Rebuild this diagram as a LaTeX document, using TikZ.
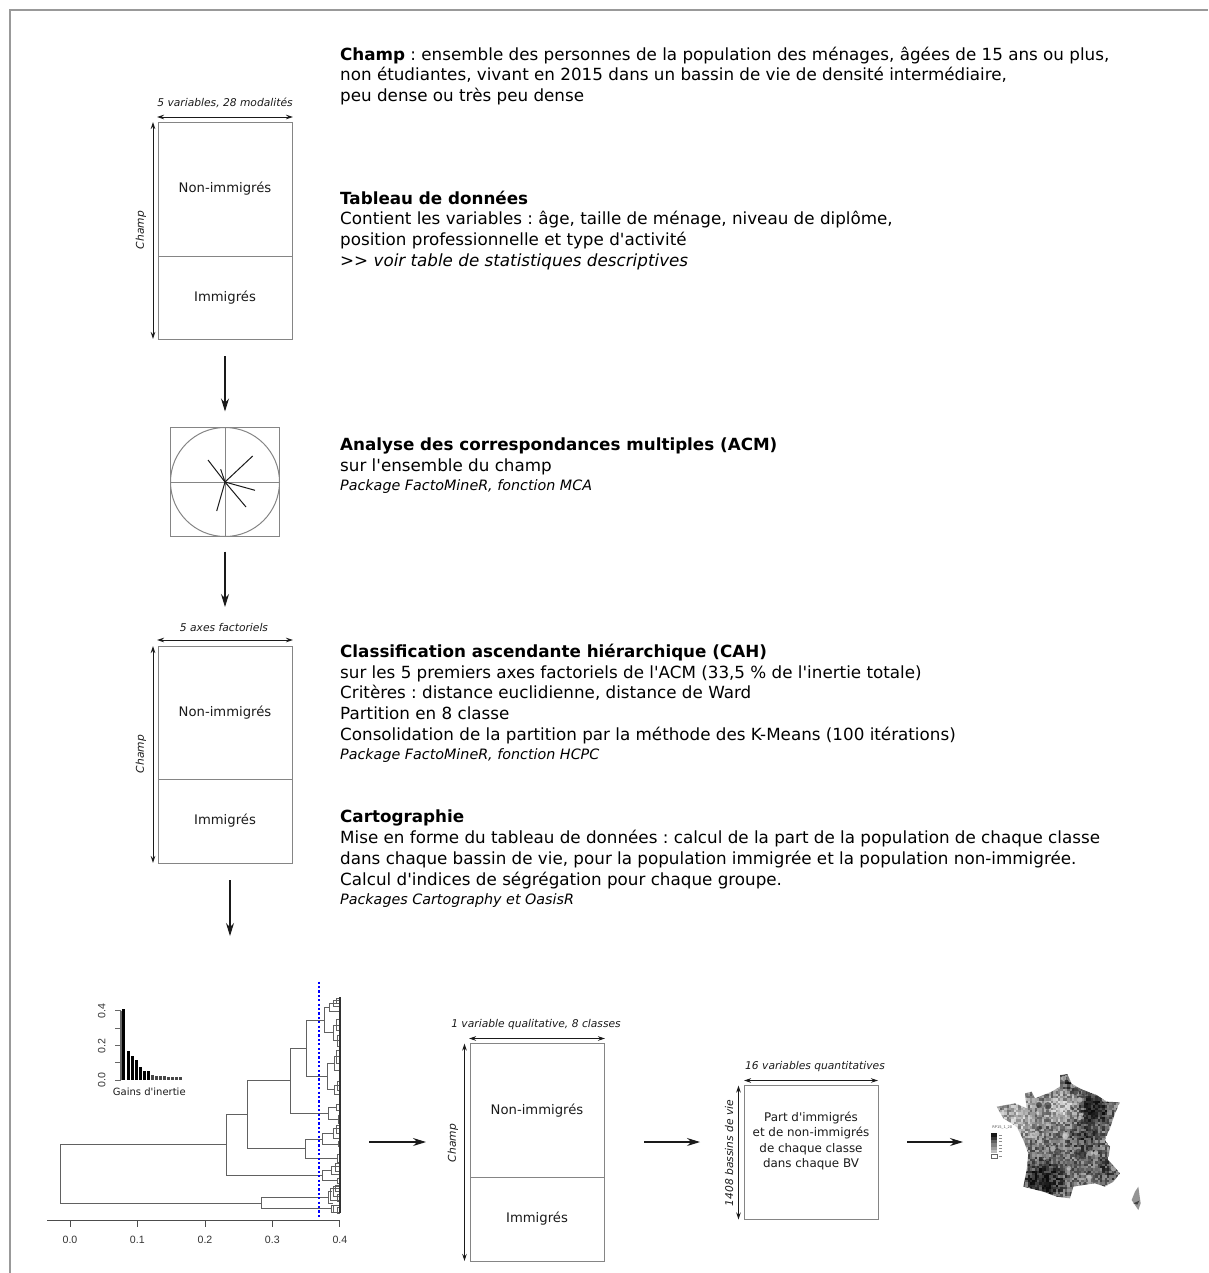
\documentclass[tikz,border=0pt]{standalone}
\usepackage{fontspec}
\usetikzlibrary{arrows.meta}
\setmainfont{DejaVu Sans}
\newfontfamily\rfont{Liberation Sans}
\definecolor{ink}{HTML}{1A1A1A}
\definecolor{boxgrey}{HTML}{858585}
\definecolor{framegrey}{HTML}{999999}
\tikzset{
  x=1pt,y=-1pt,
  cell/.style={draw=boxgrey,line width=0.95pt,minimum width=134pt,outer sep=0pt,inner sep=0pt,font=\fontsize{13.2}{15}\selectfont,text=ink,align=center},
  flow/.style={draw=ink,line width=1.1pt,-{Stealth[length=13pt,width=8pt]}},
  dim/.style={draw=ink,line width=0.9pt,{Stealth[length=7pt,width=4.5pt]}-{Stealth[length=7pt,width=4.5pt]}},
  dimlab/.style={font=\fontsize{10.7}{13}\selectfont\itshape,text=ink,inner sep=0pt},
  block/.style={anchor=north west,inner sep=0pt,align=left,text=black,font=\fontsize{16.75}{20.9}\selectfont\frenchspacing},
  den/.style={draw=black!62,line width=0.95pt},
  rlab/.style={font=\rfont\fontsize{10.6}{12}\selectfont,text=black!80,inner sep=0pt},
}
\newcommand{\smallline}[1]{{\fontsize{14.3}{16}\selectfont\itshape #1}}
\newcommand{\qs}{\textquotesingle}
\begin{document}
\begin{tikzpicture}
\useasboundingbox (0,0) rectangle (1208,1273);
% frame
\draw[framegrey,line width=1.2pt] (10,1273) -- (10,10) -- (1208,10);

% ---- first table
\node[cell,minimum height=134pt,anchor=north west] (t1a) at (158,122) {Non-immigrés};
\node[cell,minimum height=83pt,anchor=north west] (t1b) at (t1a.south west) {Immigrés};
\draw[dim] ([yshift=5pt,xshift=-1pt]t1a.north west) -- ([yshift=5pt,xshift=1pt]t1a.north east);
\node[dimlab] (t1w) at (225,103) {5 variables, 28 modalités};
\draw[dim] ([xshift=-5pt]t1a.north west) -- ([xshift=-5pt]t1b.south west);
\node[dimlab,rotate=90] (t1h) at (141,230) {Champ};

% ---- ACM
\node[draw=boxgrey,line width=0.95pt,minimum size=109pt,inner sep=0pt,outer sep=0pt] (acm) at (225,482) {};
\draw[boxgrey,line width=1pt] (acm.center) circle[radius=54.5pt];
\draw[boxgrey,line width=1pt] (acm.north) -- (acm.south) (acm.west) -- (acm.east);
\foreach \a/\b in {252.7/456,208/460,220.7/469.3,255/490.3,246/507,216.7/511}
  \draw[ink,line width=1pt] (acm.center) -- (\a,\b);

% ---- second table
\node[cell,minimum height=133pt,anchor=north west] (t2a) at (158,646) {Non-immigrés};
\node[cell,minimum height=84pt,anchor=north west] (t2b) at (t2a.south west) {Immigrés};
\draw[dim] ([yshift=6pt,xshift=-1pt]t2a.north west) -- ([yshift=6pt,xshift=1pt]t2a.north east);
\node[dimlab] (t2w) at (224,628) {5 axes factoriels};
\draw[dim] ([xshift=-5pt]t2a.north west) -- ([xshift=-5pt]t2b.south west);
\node[dimlab,rotate=90] (t2h) at (141,754) {Champ};

% ---- vertical arrows
\draw[flow] ([yshift=-17pt]t1b.south) -- ([yshift=16pt]acm.north);
\draw[flow] ([yshift=-15pt]acm.south) -- ([yshift=39pt]t2a.north);
\coordinate (d1) at (230,880);
\coordinate (d2) at (230,936);
\draw[flow] (d1) -- (d2);

% ---- texts
\node[block] (txtA) at (340,46.5) {\textbf{Champ} : ensemble des personnes de la population des ménages, âgées de 15 ans ou plus,\\non étudiantes, vivant en 2015 dans un bassin de vie de densité intermédiaire,\\peu dense ou très peu dense};
\node[block] (txtB) at (340,190.5) {\textbf{Tableau de données}\\Contient les variables : âge, taille de ménage, niveau de diplôme,\\position professionnelle et type d\qs activité\\\textit{>{}> voir table de statistiques descriptives}};
\node[block] (txtC) at (340,437.5) {\textbf{Analyse des correspondances multiples (ACM)}\\sur l\qs ensemble du champ\\[-2pt]\smallline{Package FactoMineR, fonction MCA}};
\node[block] (txtD) at (340,643.5) {\textbf{Classification ascendante hiérarchique (CAH)}\\sur les 5 premiers axes factoriels de l\qs ACM (33,5 \% de l\qs inertie totale)\\Critères : distance euclidienne, distance de Ward\\Partition en 8 classe\\Consolidation de la partition par la méthode des K-Means (100 itérations)\\[-2pt]\smallline{Package FactoMineR, fonction HCPC}};
\node[block] (txtE) at (340,809.5) {\textbf{Cartographie}\\Mise en forme du tableau de données : calcul de la part de la population de chaque classe\\dans chaque bassin de vie, pour la population immigrée et la population non-immigrée.\\Calcul d\qs indices de ségrégation pour chaque groupe.\\[-2pt]\smallline{Packages Cartography et OasisR}};

% ---- dendrogram (crop coordinates)
\begin{scope}[shift={(40,970)},x=0.3333pt,y=-0.3333pt]
  \draw[den] (558,524)--(60,524)--(60,700)--(664,700);
  \draw[den] (875,716)--(664,716)--(664,683)--(865,683);
  \draw[den] (622,434)--(558,434)--(558,616)--(848,616);
  \draw[den] (750,332)--(622,332)--(622,536)--(796,536);
  \draw[den] (798,235)--(750,235)--(750,430)--(865,430);
  \draw[den] (855,150)--(798,150)--(798,320)--(862,320);
  \draw[den] (870,112)--(855,112)--(855,188)--(880,188);
  \draw[den] (884,280)--(862,280)--(862,358)--(884,358);
  \draw[den] (890,412)--(865,412)--(865,448)--(895,448);
  \draw[den] (848,508)--(796,508)--(796,565)--(895,565);
  \draw[den] (882,490)--(848,490)--(848,522)--(895,522);
  \draw[den] (874,600)--(848,600)--(848,632)--(895,632);
  \draw[den] (875,665)--(865,665)--(865,700)--(880,700);
  \draw[den] (895,706)--(875,706)--(875,726)--(900,726);
  \foreach \xa/\ya/\yb in {870/100/124,880/92/108,889/86/100,880/165/212,890/148/180,893/195/230,884/260/300,891/240/280,
    884/345/372,892/335/360,890/404/420,895/435/460,882/476/505,890/465/490,895/515/530,892/552/578,874/588/612,
    888/580/605,893/625/640,880/650/680,872/655/690,888/645/665,892/672/695,880/705/726,892/712/730}
    \draw[den] (900,\ya)--(\xa,\ya)--(\xa,\yb)--(900,\yb);
  \draw[black!80,line width=1.6pt] (900,82)--(900,730);
  \coordinate (cutA) at (838,35);
  \coordinate (cutB) at (838,742);
  \draw[blue,line width=2.2pt,dash pattern=on 2.2pt off 2.2pt] (cutA)--(cutB);
  % axis
  \draw[black!70,line width=0.95pt] (22,752)--(900,752);
  \foreach \px/\lab in {90/0.0,292/0.1,495/0.2,697/0.3,900/0.4}{
    \draw[black!70,line width=0.95pt] (\px,752)--(\px,772);
    \node[rlab] at (\px,811) {\lab};
  }
  % inset bars
  \draw[black!60,line width=1.2pt] (243,122)--(243,330);
  \foreach \py/\lab in {122/0.4,228/0.2,330/0.0}
    \node[rlab,rotate=90] at (185,\py) {\lab};
  \foreach \py in {122,174,226,278,330}
    \draw[black!60,line width=0.95pt] (243,\py)--(225,\py);
  \foreach \bx/\by in {252/116,265/242,277/258,289/269,301/291,313/302,325/302}
    \fill[black] (\bx-4.5,\by) rectangle (\bx+4.5,331);
  \foreach \bx/\by in {337/316,349/317,361/318,373/319,385/320,397/320,409/321,421/322}
    \fill[black!72] (\bx-4.5,\by) rectangle (\bx+4.5,331);
  \node[font=\fontsize{10}{12}\selectfont,text=ink,inner sep=0pt] (gains) at (328,365) {Gains d\qs inertie};
\end{scope}

% ---- third table
\node[cell,minimum height=133.5pt,anchor=north west] (t3a) at (470,1043.5) {Non-immigrés};
\node[cell,minimum height=84pt,anchor=north west] (t3b) at (t3a.south west) {Immigrés};
\draw[dim] ([yshift=5pt,xshift=-1pt]t3a.north west) -- ([yshift=5pt,xshift=1pt]t3a.north east);
\node[dimlab] (t3w) at (536,1025) {1 variable qualitative, 8 classes};
\draw[dim] ([xshift=-5.5pt]t3a.north west) -- ([xshift=-5.5pt]t3b.south west);
\node[dimlab,rotate=90] (t3h) at (453,1143) {Champ};

% ---- fourth table
\node[cell,minimum height=134pt,anchor=north west] (t4) at (744,1085.5) {};
\node[font=\fontsize{11.9}{15.1}\selectfont,text=ink,align=center,inner sep=0pt] (t4t) at (811,1141) {Part d\qs immigrés\\et de non-immigrés\\de chaque classe\\dans chaque BV};
\draw[dim] ([yshift=5pt]t4.north west) -- ([yshift=5pt]t4.north east);
\node[dimlab] (t4w) at (815,1067) {16 variables quantitatives};
\draw[dim] ([xshift=-5.5pt]t4.north west) -- ([xshift=-5.5pt]t4.south west);
\node[dimlab,rotate=90] (t4h) at (729,1153) {1408 bassins de vie};

% ---- horizontal arrows
\coordinate (h1a) at (369,1142);
\coordinate (h1b) at (426,1142);
\coordinate (h2a) at (644,1142);
\coordinate (h2b) at (700,1142);
\coordinate (h3a) at (907,1142);
\coordinate (h3b) at (963,1142);
\draw[flow] (h1a) -- (h1b);
\draw[flow] (h2a) -- (h2b);
\draw[flow] (h3a) -- (h3b);

% ---- map (crop coordinates)
\begin{scope}[shift={(960,1070)},x=0.3333pt,y=-0.3333pt]
  \begin{scope}
    \clip (300,15)--(322,12)--(335,42)--(370,60)--(410,75)--(440,95)--(480,97)--(465,130)--(450,175)--(435,210)--(450,230)--(445,270)--(480,310)--(460,335)--(435,350)--(405,340)--(370,345)--(340,350)--(330,385)--(290,380)--(250,365)--(190,350)--(200,300)--(205,250)--(190,210)--(170,170)--(130,145)--(110,110)--(165,100)--(200,115)--(195,70)--(215,65)--(225,85)--(275,65)--(300,50)--cycle;
    \pgfmathsetseed{4217}
    \foreach \cx in {105,112,...,485}{
      \foreach \cy in {8,15,...,390}{
        \pgfmathsetmacro{\dx}{\cx/100}
        \pgfmathsetmacro{\dy}{\cy/100}
        \pgfmathsetmacro{\v}{100*min(0.95,max(0.12,0.50+0.45*(rnd-0.5)
          +0.42*exp(-((\dx-2.5)^2+(\dy-3.25)^2)/0.35)
          +0.42*exp(-((\dx-4.0)^2+(\dy-1.1)^2)/0.2)
          +0.28*exp(-((\dx-3.3)^2+(\dy-0.4)^2)/0.06)
          +0.22*exp(-((\dx-3.7)^2+(\dy-2.0)^2)/0.25)
          +0.22*exp(-((\dx-4.4)^2+(\dy-2.9)^2)/0.2)
          -0.24*exp(-((\dx-1.7)^2+(\dy-1.4)^2)/0.3)
          -0.24*exp(-((\dx-3.1)^2+(\dy-1.1)^2)/0.2)))}
        \fill[black!\v] (\cx,\cy) rectangle (\cx+7.4,\cy+7.4);
      }
    }
    % mottled patches of bassins
    \foreach \n in {1,...,28}{
      \pgfmathsetmacro{\px}{230+250*rnd}
      \pgfmathsetmacro{\py}{30+350*rnd}
      \pgfmathsetmacro{\pr}{5+7*rnd}
      \fill[black!85,opacity=0.55] (\px,\py) circle[radius=\pr];
    }
    \foreach \n in {1,...,40}{
      \pgfmathsetmacro{\px}{110+370*rnd}
      \pgfmathsetmacro{\py}{15+370*rnd}
      \pgfmathsetmacro{\pr}{4+6*rnd}
      \fill[black!18,opacity=0.6] (\px,\py) circle[radius=\pr];
    }
  \end{scope}
  \fill[black!42] (535,350)--(542,400)--(535,420)--(515,390)--(525,365)--cycle;
  \fill[black!75] (520,400)--(538,392)--(532,404)--cycle;
  % legend
  \node[font=\fontsize{3.6}{4}\selectfont,text=black!70,inner sep=0pt] (legt) at (127,174) {RP15\_1\_20};
  \foreach \ly/\lc in {190/90,200/78,210/62,220/50,230/38,240/26}
    \fill[black!\lc] (93,\ly) rectangle (110,\ly+10);
  \draw[black!60,line width=0.3pt] (93,253) rectangle (110,263);
  \foreach \ly in {195,205,215,225,235,245,258}
    \draw[black!45,line width=0.7pt] (116,\ly)--(126,\ly);
\end{scope}
\end{tikzpicture}
\end{document}
